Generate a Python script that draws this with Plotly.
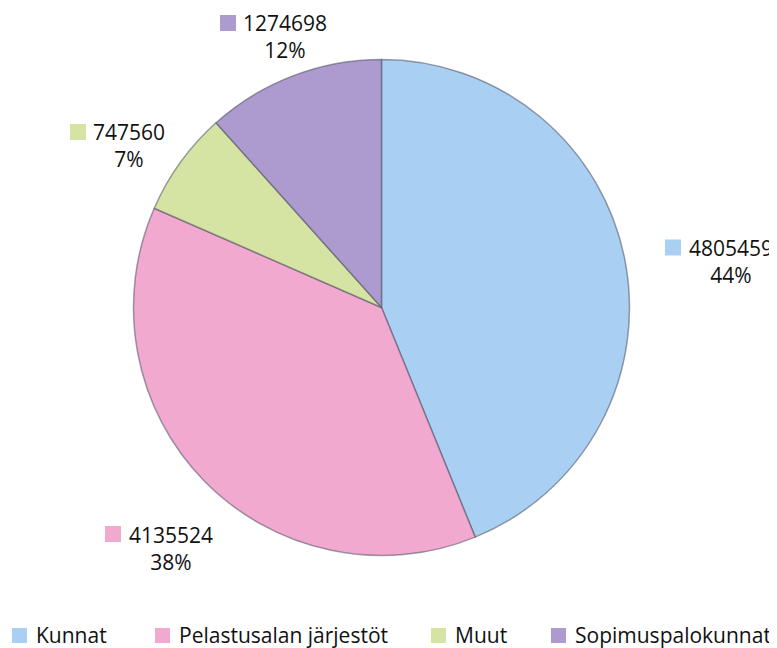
import plotly.graph_objects as go

# Data
categories = ["Kunnat", "Pelastusalan järjestöt", "Muut", "Sopimuspalokunnat"]
values = [4805459, 4135524, 747560, 1274698]
colors = ["#a9d0f2", "#f1a9cf", "#d6e4a3", "#ad9bcf"]

W, H = 777, 648
OFF = 8  # page body margin in the browser
FONT = "Open Sans"
FS = 21


def px(x):
    return (x - OFF) / W


def py(y):
    return (H - (y - OFF)) / H


# Pie geometry (page pixels)
cx, cy, r = 381.5, 307.5, 248

fig = go.Figure(go.Pie(
    labels=categories,
    values=values,
    marker=dict(colors=colors, line=dict(color="rgba(80,80,100,0.55)", width=1.5)),
    sort=False,
    direction="clockwise",
    rotation=0,
    textinfo="none",
    hoverinfo="label+value+percent",
    showlegend=False,
    domain=dict(x=[px(cx - r), px(cx + r)],
                y=[py(cy + r), py(cy - r)]),
))

total = sum(values)
# data label layout: (text center x, block center y) in page pixels
label_pos = [(731, 261.5), (171, 548), (129, 146), (285, 37)]
label_line1_dx = [-43, -43, -36, -42]  # left edge of number relative to center

annotations = []
shapes = []
for i, (v, c) in enumerate(zip(values, colors)):
    x, y = label_pos[i]
    pct = round(100 * v / total)
    annotations.append(dict(
        x=px(x), y=py(y), xref="paper", yref="paper",
        text=f"{v}<br>{pct}%", showarrow=False,
        xanchor="center", yanchor="middle", align="center",
        font=dict(family=FONT, size=FS, color="#111111"),
    ))
    sq_right = x + label_line1_dx[i] - 7
    line1_y = y - 14
    shapes.append(dict(
        type="rect", xref="paper", yref="paper",
        x0=px(sq_right - 16), x1=px(sq_right),
        y0=py(line1_y + 8), y1=py(line1_y - 8),
        fillcolor=c, line=dict(width=0),
    ))

# custom legend at the bottom
legend_sq_x = [12, 155, 431, 551]
legend_y = 635
for i, (name, c) in enumerate(zip(categories, colors)):
    x0 = legend_sq_x[i]
    shapes.append(dict(
        type="rect", xref="paper", yref="paper",
        x0=px(x0), x1=px(x0 + 15),
        y0=py(legend_y + 8), y1=py(legend_y - 7),
        fillcolor=c, line=dict(width=0),
    ))
    annotations.append(dict(
        x=px(x0 + 22), y=py(legend_y), xref="paper", yref="paper",
        text=name, showarrow=False, xanchor="left", yanchor="middle",
        font=dict(family=FONT, size=FS, color="#111111"),
    ))

fig.update_layout(
    width=W, height=H,
    margin=dict(l=0, r=0, t=0, b=0),
    paper_bgcolor="white", plot_bgcolor="white",
    annotations=annotations, shapes=shapes,
    showlegend=False,
)

fig.write_html("out.html")
